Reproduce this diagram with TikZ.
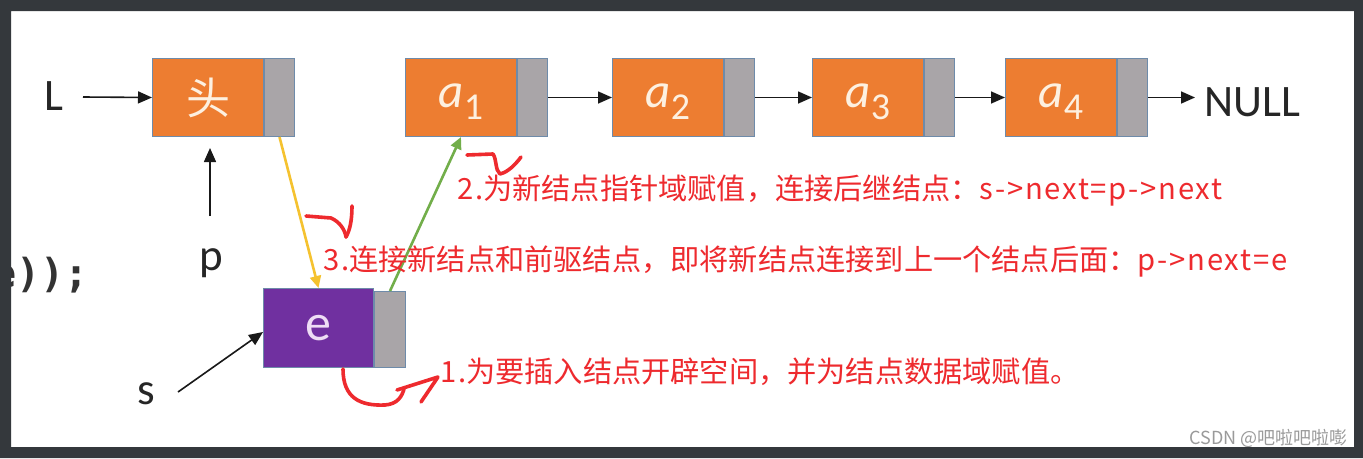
\documentclass[tikz,border=0pt]{standalone}
\usepackage{fontspec}
\setmainfont{Carlito}
\newfontfamily\cjk{Noto Sans CJK SC}
\newfontfamily\cjkw[LetterSpace=6]{Noto Sans CJK SC}
\newfontfamily\codefont{DejaVu Sans Mono}
\usetikzlibrary{arrows.meta}
\definecolor{framec}{HTML}{34383C}
\definecolor{nodeorange}{HTML}{ED7D31}
\definecolor{ptrgray}{HTML}{A9A5A8}
\definecolor{boxline}{HTML}{6E8BAA}
\definecolor{nodepurple}{HTML}{7030A0}
\definecolor{cream}{HTML}{FDF0E0}
\definecolor{lav}{HTML}{EEDDF5}
\definecolor{yel}{HTML}{F5C22F}
\definecolor{grn}{HTML}{72AE4A}
\definecolor{redm}{HTML}{EE2A2E}
\definecolor{wmgray}{HTML}{9A9A9A}
\tikzset{
  dat/.style={draw=boxline, line width=1pt, fill=nodeorange, minimum width=111pt,
    minimum height=78pt, inner sep=0pt, anchor=north west, text=cream},
  ptr/.style={draw=boxline, line width=1pt, fill=ptrgray, minimum width=30pt,
    minimum height=78pt, inner sep=0pt, anchor=north west},
  lbl/.style={font=\fontsize{45}{45}\selectfont, inner sep=2pt, text=black!85},
  arr/.style={-{Triangle[length=14pt,width=12pt]}, line width=1.6pt, black!90},
  carr/.style={-{Triangle[length=12pt,width=11pt]}, line width=2.6pt},
  redtxt/.style={font=\cjk\fontsize{29.2}{29.2}\selectfont, text=redm, inner sep=0pt, anchor=west},
  scrib/.style={draw=redm, line width=3.6pt, line cap=round, line join=round},
  alab/.style={text height=36pt, text depth=16pt}
}
\newcommand{\alabel}[1]{{\fontsize{49}{49}\selectfont\itshape a}{\fontsize{38}{38}\selectfont\raisebox{-12pt}{#1}}}
\begin{document}
\begin{tikzpicture}[x=1pt,y=-1pt]
\useasboundingbox (0,0) rectangle (1363,458);
\fill[white] (0,0) rectangle (1363,458);

% code fragment (clipped by frame, as in the reference)
\node[anchor=base west, inner sep=0pt, text=black!80] (code) at (-8,287)
  {\codefont\bfseries\fontsize{40}{40}\selectfont e));};

% head node
\node[dat, font=\cjk\fontsize{44}{44}\selectfont] (h) at (152,58) {头};
\node[ptr] (hp) at (h.north east) {};
% list nodes
\node[dat, alab] (a1) at (405,58) {\alabel{1}};
\node[ptr] (a1p) at (a1.north east) {};
\node[dat, alab] (a2) at (612,58) {\alabel{2}};
\node[ptr] (a2p) at (a2.north east) {};
\node[dat, alab] (a3) at (812,58) {\alabel{3}};
\node[ptr] (a3p) at (a3.north east) {};
\node[dat, alab] (a4) at (1005,58) {\alabel{4}};
\node[ptr] (a4p) at (a4.north east) {};
% new node e
\node[dat, fill=nodepurple, text=lav, font=\fontsize{52}{52}\selectfont, minimum width=110pt, minimum height=79pt] (e) at (263,288) {e};
\node[ptr, minimum width=31pt, minimum height=76pt] (ep) at ([yshift=-3pt]e.north east) {};

% labels
\node[lbl] (L) at (53.5,96) {L};
\node[lbl] (p) at (211,263) {p};
\node[lbl] (s) at (146,394) {s};
\node[lbl, anchor=west] (null) at (1202,102) {NULL};

\coordinate (Lstart) at (83,97);
\coordinate (pstart) at (210,216);
\coordinate (pend) at (210,148);
\coordinate (sstart) at (178,392);

\draw[arr] (Lstart) -- (h.west);
\draw[arr] (pstart) -- (pend);
\draw[arr] (sstart) -- ([yshift=-4pt]e.west);
\draw[arr] (a1p.east) -- (a2.west);
\draw[arr] (a2p.east) -- (a3.west);
\draw[arr] (a3p.east) -- (a4.west);
\draw[arr, shorten >=7pt] (a4p.east) -- (a4p.east -| null.west);

\draw[carr, yel] (hp.south) -- (e.north);
\draw[carr, grn] (ep.north) -- (a1.south);

% red annotations
\node[redtxt] (t2) at (457,191) {{\cjkw 2.}为新结点指针域赋值，连接后继结点：{\cjkw s->next=p->next}};
\node[redtxt] (t3) at (323,262) {{\cjkw 3.}连接新结点和前驱结点，即将新结点连接到上一个结点后面：{\cjkw p->next=e}};
\node[redtxt] (t1) at (440,372) {{\cjkw 1.}为要插入结点开辟空间，并为结点数据域赋值。};

\draw[scrib] (467,155) -- (493,154) .. controls (497,160) and (495,170) .. (500,174)
  .. controls (508,172) and (515,165) .. (521,157);
\draw[scrib] (306,216) -- (331,218) .. controls (340,222) and (345,230) .. (346,237);
\draw[scrib] (352,206) .. controls (352,220) and (350,230) .. (346,237);
\draw[scrib] (343,369) .. controls (343,398) and (360,406) .. (385,405)
  .. controls (398,404) and (402,396) .. (404,389);
\draw[scrib] (397,390) -- (438,377) -- (421,402);

% watermark
\node[anchor=east, inner sep=0pt, text=wmgray, font=\cjk\fontsize{18}{18}\selectfont] (wm) at (1348,438) {CSDN @吧啦吧啦嘭};

% frame
\fill[framec, even odd rule] (0,0) rectangle (1363,458) (11,11) rectangle (1354,447);
\end{tikzpicture}
\end{document}
